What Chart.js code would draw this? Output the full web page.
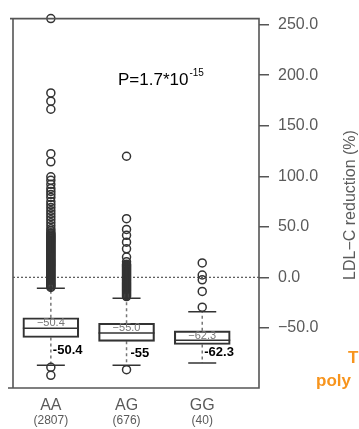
<!DOCTYPE html>
<html>
<head>
<meta charset="utf-8">
<script src="https://cdn.jsdelivr.net/npm/chart.js@4.4.0/dist/chart.umd.min.js"></script>
<style>
  body { margin: 0; background: #fff; }
  canvas { display: block; }
</style>
</head>
<body>
<canvas id="myChart" width="359" height="429"></canvas>
<script>
// genotype groups
const categories = ['AA', 'AG', 'GG'];
const counts = ['(2807)', '(676)', '(40)'];

// box statistics, LDL-C reduction (%)
const q1 = [-59.5, -63.3, -66.5];
const medians = [-50.4, -55.0, -62.3];
const q3 = [-40.0, -45.4, -52.9];
const whiskerHigh = [-10.9, -20.7, -34.1];
const whiskerLow = [-87.0, -87.0, -84.7];

// outliers (the lower part of AA and AG is a solid stack)
const outliersAA = [256, 182.5, 174.3, 166.3, 122.4, 114.3, 99.5, 96, 92, 88, 85, 82, 79, 75, 72, 69, 66, 63, 60,
	57, 54, 51, 48, 46, 44, 43, 42, 41, 40, 39, 38, 37, 36, 35, 34, 33, 32, 31, 30, 29, 28, 27, 26, 25, 24,
	23, 22, 21, 20, 19, 18, 17, 16, 15, 14, 13, 12, 11, 10, 9, 8, 7, 6, 5, 4, 3, 2, 1, 0,
	-1, -2, -3, -4, -5, -6, -7, -8, -9, -10, -89, -97];
const outliersAG = [119.8, 58, 47.4, 41.6, 34.8, 28.2, 20, 15.3, 13, 12, 11, 10, 9, 8, 7, 6, 5, 4, 3, 2, 1, 0,
	-1, -2, -3, -4, -5, -6, -7, -8, -9, -10, -11, -12, -13, -14, -15, -16, -17, -18, -19, -91.4];
const outliersGG = [14.3, 2.3, -2.5, -13.9, -29.5];

const boxLabels = ['-50.4', '-55', '-62.3'];
const pValue = 'P=1.7*10';
const pExp = '-15';
const yTicks = [250, 200, 150, 100, 50, 0, -50];
const yTitle = 'LDL\u2212C reduction (%)';

const ink = '#333';
const gray = '#5a5a5a';

function fmt(v){
	var s = v.toFixed(1);
	return v < 0 ? '\u2212' + s.substring(1) : s;
}

var outlierPoints = [];
[outliersAA, outliersAG, outliersGG].forEach(function(list, i){
	list.forEach(function(v){ outlierPoints.push({x: i + 1, y: v}); });
});

var whiskerPoints = [];
for (let i = 0; i < categories.length; i++) {
	whiskerPoints.push({x: i + 1, y: q3[i]}, {x: i + 1, y: whiskerHigh[i]}, {x: i + 1, y: null});
	whiskerPoints.push({x: i + 1, y: q1[i]}, {x: i + 1, y: whiskerLow[i]}, {x: i + 1, y: null});
}

var capPoints = [];
for (let i = 0; i < categories.length; i++) {
	capPoints.push({x: i + 1, y: whiskerHigh[i]}, {x: i + 1, y: whiskerLow[i]});
}

const decorations = {
	id: 'decorations',
	beforeDatasetsDraw: (chart) => {
		const {ctx, chartArea, scales} = chart;
		const y0 = scales.y.getPixelForValue(0);
		ctx.save();
		ctx.strokeStyle = '#555';
		ctx.lineWidth = 1.2;
		ctx.setLineDash([2, 2]);
		ctx.beginPath();
		ctx.moveTo(chartArea.left, y0);
		ctx.lineTo(chartArea.right, y0);
		ctx.stroke();
		ctx.restore();
	},
	afterDraw: (chart) => {
		const {ctx, chartArea, scales} = chart;
		const x = scales.x, y = scales.y;
		ctx.save();

		// frame
		ctx.strokeStyle = '#555';
		ctx.lineWidth = 1.6;
		ctx.beginPath();
		ctx.moveTo(chartArea.left - 3, chartArea.top);
		ctx.lineTo(chartArea.right, chartArea.top);
		ctx.lineTo(chartArea.right, chartArea.bottom);
		ctx.lineTo(chartArea.left - 5, chartArea.bottom);
		ctx.moveTo(chartArea.left, chartArea.top);
		ctx.lineTo(chartArea.left, chartArea.bottom);
		ctx.stroke();

		// values inside boxes
		ctx.fillStyle = '#777';
		ctx.font = '11px "Liberation Sans", Arial, sans-serif';
		ctx.textAlign = 'center';
		ctx.textBaseline = 'middle';
		for (let i = 0; i < categories.length; i++) {
			const cx = x.getPixelForValue(i + 1);
			const cy = (y.getPixelForValue(q3[i]) + y.getPixelForValue(medians[i])) / 2;
			ctx.fillText(fmt(medians[i]), cx, cy);
		}

		// bold median labels
		const labelDx = [2, 4, 2];
		const labelDy = [22.6, 20.7, 12.3];
		ctx.fillStyle = '#000';
		ctx.font = 'bold 13px "Liberation Sans", Arial, sans-serif';
		ctx.textAlign = 'left';
		for (let i = 0; i < categories.length; i++) {
			ctx.fillText(boxLabels[i], x.getPixelForValue(i + 1) + labelDx[i], y.getPixelForValue(medians[i]) + labelDy[i]);
		}

		// category labels
		ctx.fillStyle = gray;
		ctx.textAlign = 'center';
		for (let i = 0; i < categories.length; i++) {
			const cx = x.getPixelForValue(i + 1);
			ctx.font = '16px "Liberation Sans", Arial, sans-serif';
			ctx.fillText(categories[i], cx, chartArea.bottom + 18);
			ctx.font = '12px "Liberation Sans", Arial, sans-serif';
			ctx.fillText(counts[i], cx, chartArea.bottom + 33);
		}

		// p value
		ctx.fillStyle = '#000';
		ctx.textAlign = 'left';
		ctx.textBaseline = 'alphabetic';
		ctx.font = '17px "Liberation Sans", Arial, sans-serif';
		ctx.fillText(pValue, 118, 85);
		const pw = ctx.measureText(pValue).width;
		ctx.font = '10px "Liberation Sans", Arial, sans-serif';
		ctx.fillText(pExp, 118 + pw + 1, 76);

		// axis title
		ctx.fillStyle = gray;
		ctx.font = '16px "Liberation Sans", Arial, sans-serif';
		ctx.translate(351, 205);
		ctx.rotate(-Math.PI / 2);
		ctx.textAlign = 'center';
		ctx.textBaseline = 'middle';
		ctx.fillText(yTitle, 0, 0);
		ctx.restore();

		// cut-off orange caption
		ctx.save();
		ctx.fillStyle = '#f7941d';
		ctx.font = 'bold 17px "Liberation Sans", Arial, sans-serif';
		ctx.textBaseline = 'middle';
		ctx.fillText('T', 348, 358);
		ctx.fillText('poly', 316, 381);
		ctx.restore();
	}
};

const config = {
	type: 'bar',
	data: {
		datasets: [
			{
				type: 'bar',
				data: categories.map((c, i) => ({x: i + 1, y: [q1[i], q3[i]]})),
				backgroundColor: 'rgba(255,255,255,0)',
				borderColor: ink,
				borderWidth: 1.5,
				borderSkipped: false,
				barThickness: 56,
				order: 3
			},
			{
				type: 'line',
				data: whiskerPoints,
				borderColor: '#777',
				borderWidth: 1.5,
				borderDash: [3, 3],
				pointRadius: 0,
				spanGaps: false,
				order: 4
			},
			{
				type: 'scatter',
				data: capPoints,
				pointStyle: 'line',
				pointRadius: 14,
				borderColor: ink,
				borderWidth: 1.5,
				order: 2
			},
			{
				type: 'scatter',
				data: medians.map((m, i) => ({x: i + 1, y: m})),
				pointStyle: 'line',
				pointRadius: 28,
				borderColor: ink,
				borderWidth: 1.5,
				order: 2
			},
			{
				type: 'scatter',
				data: outlierPoints,
				pointStyle: 'circle',
				pointRadius: 4,
				backgroundColor: 'rgba(255,255,255,0)',
				borderColor: ink,
				borderWidth: 1.5,
				clip: false,
				order: 1
			}
		]
	},
	options: {
		responsive: false,
		animation: false,
		layout: { autoPadding: false, padding: { left: 13, top: 13, bottom: 41, right: 0 } },
		plugins: {
			legend: { display: false },
			tooltip: { enabled: false }
		},
		scales: {
			x: {
				type: 'linear',
				display: false,
				min: 0.5,
				max: 3.75,
				offset: false
			},
			y: {
				type: 'linear',
				position: 'right',
				min: -109.5,
				max: 256,
				afterBuildTicks: (scale) => { scale.ticks = yTicks.map(v => ({value: v})); },
				afterFit: (scale) => { scale.width = 100; },
				border: { display: false },
				grid: {
					drawOnChartArea: false,
					drawTicks: true,
					tickLength: 10,
					color: '#555',
					lineWidth: 1.5
				},
				ticks: {
					padding: 9,
					color: gray,
					font: { family: '"Liberation Sans", Arial, sans-serif', size: 16 },
					callback: (v) => fmt(v)
				}
			}
		}
	},
	plugins: [decorations]
};

const myChart = new Chart(document.getElementById('myChart'), config);
</script>
</body>
</html>
